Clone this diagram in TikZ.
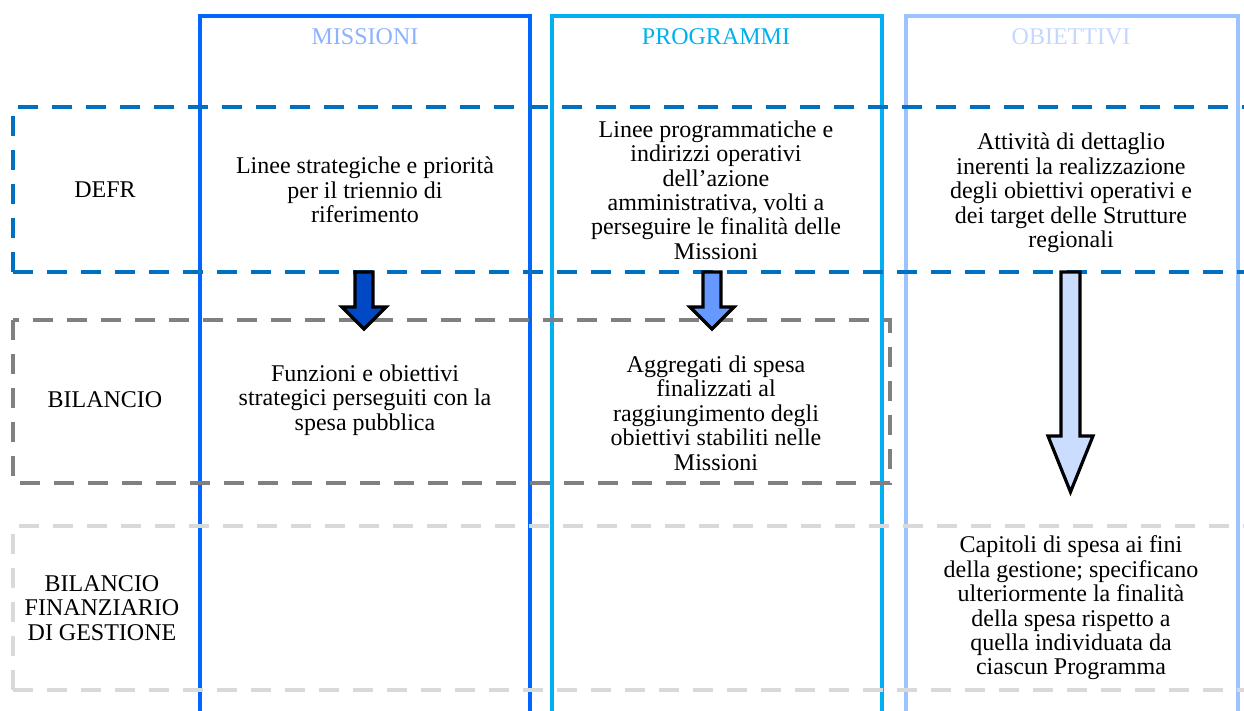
\documentclass[tikz,border=0pt]{standalone}
\usepackage{fontspec}
\setmainfont{Liberation Serif}
\usepackage{tikz}
\usetikzlibrary{positioning}

\definecolor{missblue}{HTML}{0066FF}
\definecolor{progcyan}{HTML}{00B0F0}
\definecolor{obiblue}{HTML}{9DC3FF}
\definecolor{misshead}{HTML}{8DB2FF}
\definecolor{obihead}{HTML}{C3D8FF}
\definecolor{defrblue}{HTML}{0070C0}
\definecolor{bilgray}{HTML}{808080}
\definecolor{bfggray}{HTML}{D9D9D9}
\definecolor{arrowdark}{HTML}{0048C4}
\definecolor{arrowmid}{HTML}{6699FF}
\definecolor{arrowlight}{HTML}{CADDFF}

\begin{document}
\begin{tikzpicture}[
        x=0.5pt, y=-0.5pt,
        column/.style = {
            line width=2.3pt
        },
        rowbox/.style = {
            line width=2.2pt,
            dash pattern=on 10pt off 7pt
        },
        cell/.style = {
            align=center,
            inner sep=0pt,
            font=\fontsize{12}{12.2}\selectfont
        },
        blockarrow/.style = {
            draw=black,
            line width=1.6pt,
            line join=miter
        }
    ]
        \useasboundingbox (0,0) rectangle (1244,711);

        \draw [column, missblue]  (200,720) -- (200,16) -- (530,16) -- (530,720);
        \draw [column, progcyan]  (552,720) -- (552,16) -- (882,16) -- (882,720);
        \draw [column, obiblue]   (906,720) -- (906,16) -- (1238,16) -- (1238,720);

        \draw [rowbox, defrblue]  (13,272) -- (13,107) -- (1250,107);
        \draw [rowbox, defrblue]  (13,272) -- (1250,272);
        \draw [rowbox, bilgray]   (13,320) rectangle (890,483);
        \draw [rowbox, bfggray]   (13,690) -- (13,526) -- (1250,526);
        \draw [rowbox, bfggray]   (13,690) -- (1250,690);

        \node [cell, text=misshead]  (missioni)  at (365,37)   {MISSIONI};
        \node [cell, text=progcyan]  (programmi) at (716,37)   {PROGRAMMI};
        \node [cell, text=obihead]   (obiettivi) at (1071,37)  {OBIETTIVI};

        \node [cell]  (defr)  at (105,190)  {DEFR};
        \node [cell]  (bil)   at (105,400)  {BILANCIO};
        \node [cell]  (bfg)   at (102,608)  {BILANCIO\\FINANZIARIO\\DI GESTIONE};

        \node [cell]  (miss-defr)  at (missioni |- defr)  {Linee strategiche e priorità\\per il triennio di\\riferimento};
        \node [cell]  (prog-defr)  at (programmi |- defr) {Linee programmatiche e\\indirizzi operativi\\dell’azione\\amministrativa, volti a\\perseguire le finalità delle\\Missioni};
        \node [cell, yshift=-1.5pt]  (obi-defr)  at (obiettivi |- defr)  {Attività di dettaglio\\inerenti la realizzazione\\degli obiettivi operativi e\\dei target delle Strutture\\regionali};
        \node [cell]  (miss-bil)   at (missioni |- bil)   {Funzioni e obiettivi\\strategici perseguiti con la\\spesa pubblica};
        \node [cell, yshift=-6.5pt]  (prog-bil)  at (programmi |- bil)  {Aggregati di spesa\\finalizzati al\\raggiungimento degli\\obiettivi stabiliti nelle\\Missioni};
        \node [cell]  (obi-bfg)    at (obiettivi |- bfg)  {Capitoli di spesa ai fini\\della gestione; specificano\\ulteriormente la finalità\\della spesa rispetto a\\quella individuata da\\ciascun Programma};

        \draw [blockarrow, fill=arrowdark]  (355,272) -- (373,272) -- (373,307) -- (386,307) -- (364,329) -- (342,307) -- (355,307) -- cycle;
        \draw [blockarrow, fill=arrowmid]   (703,272) -- (721,272) -- (721,307) -- (734,307) -- (712,329) -- (690,307) -- (703,307) -- cycle;
        \draw [blockarrow, fill=arrowlight] (1061,272) -- (1080,272) -- (1080,436) -- (1093,436) -- (1070.5,492) -- (1048,436) -- (1061,436) -- cycle;
    \end{tikzpicture}
\end{document}
